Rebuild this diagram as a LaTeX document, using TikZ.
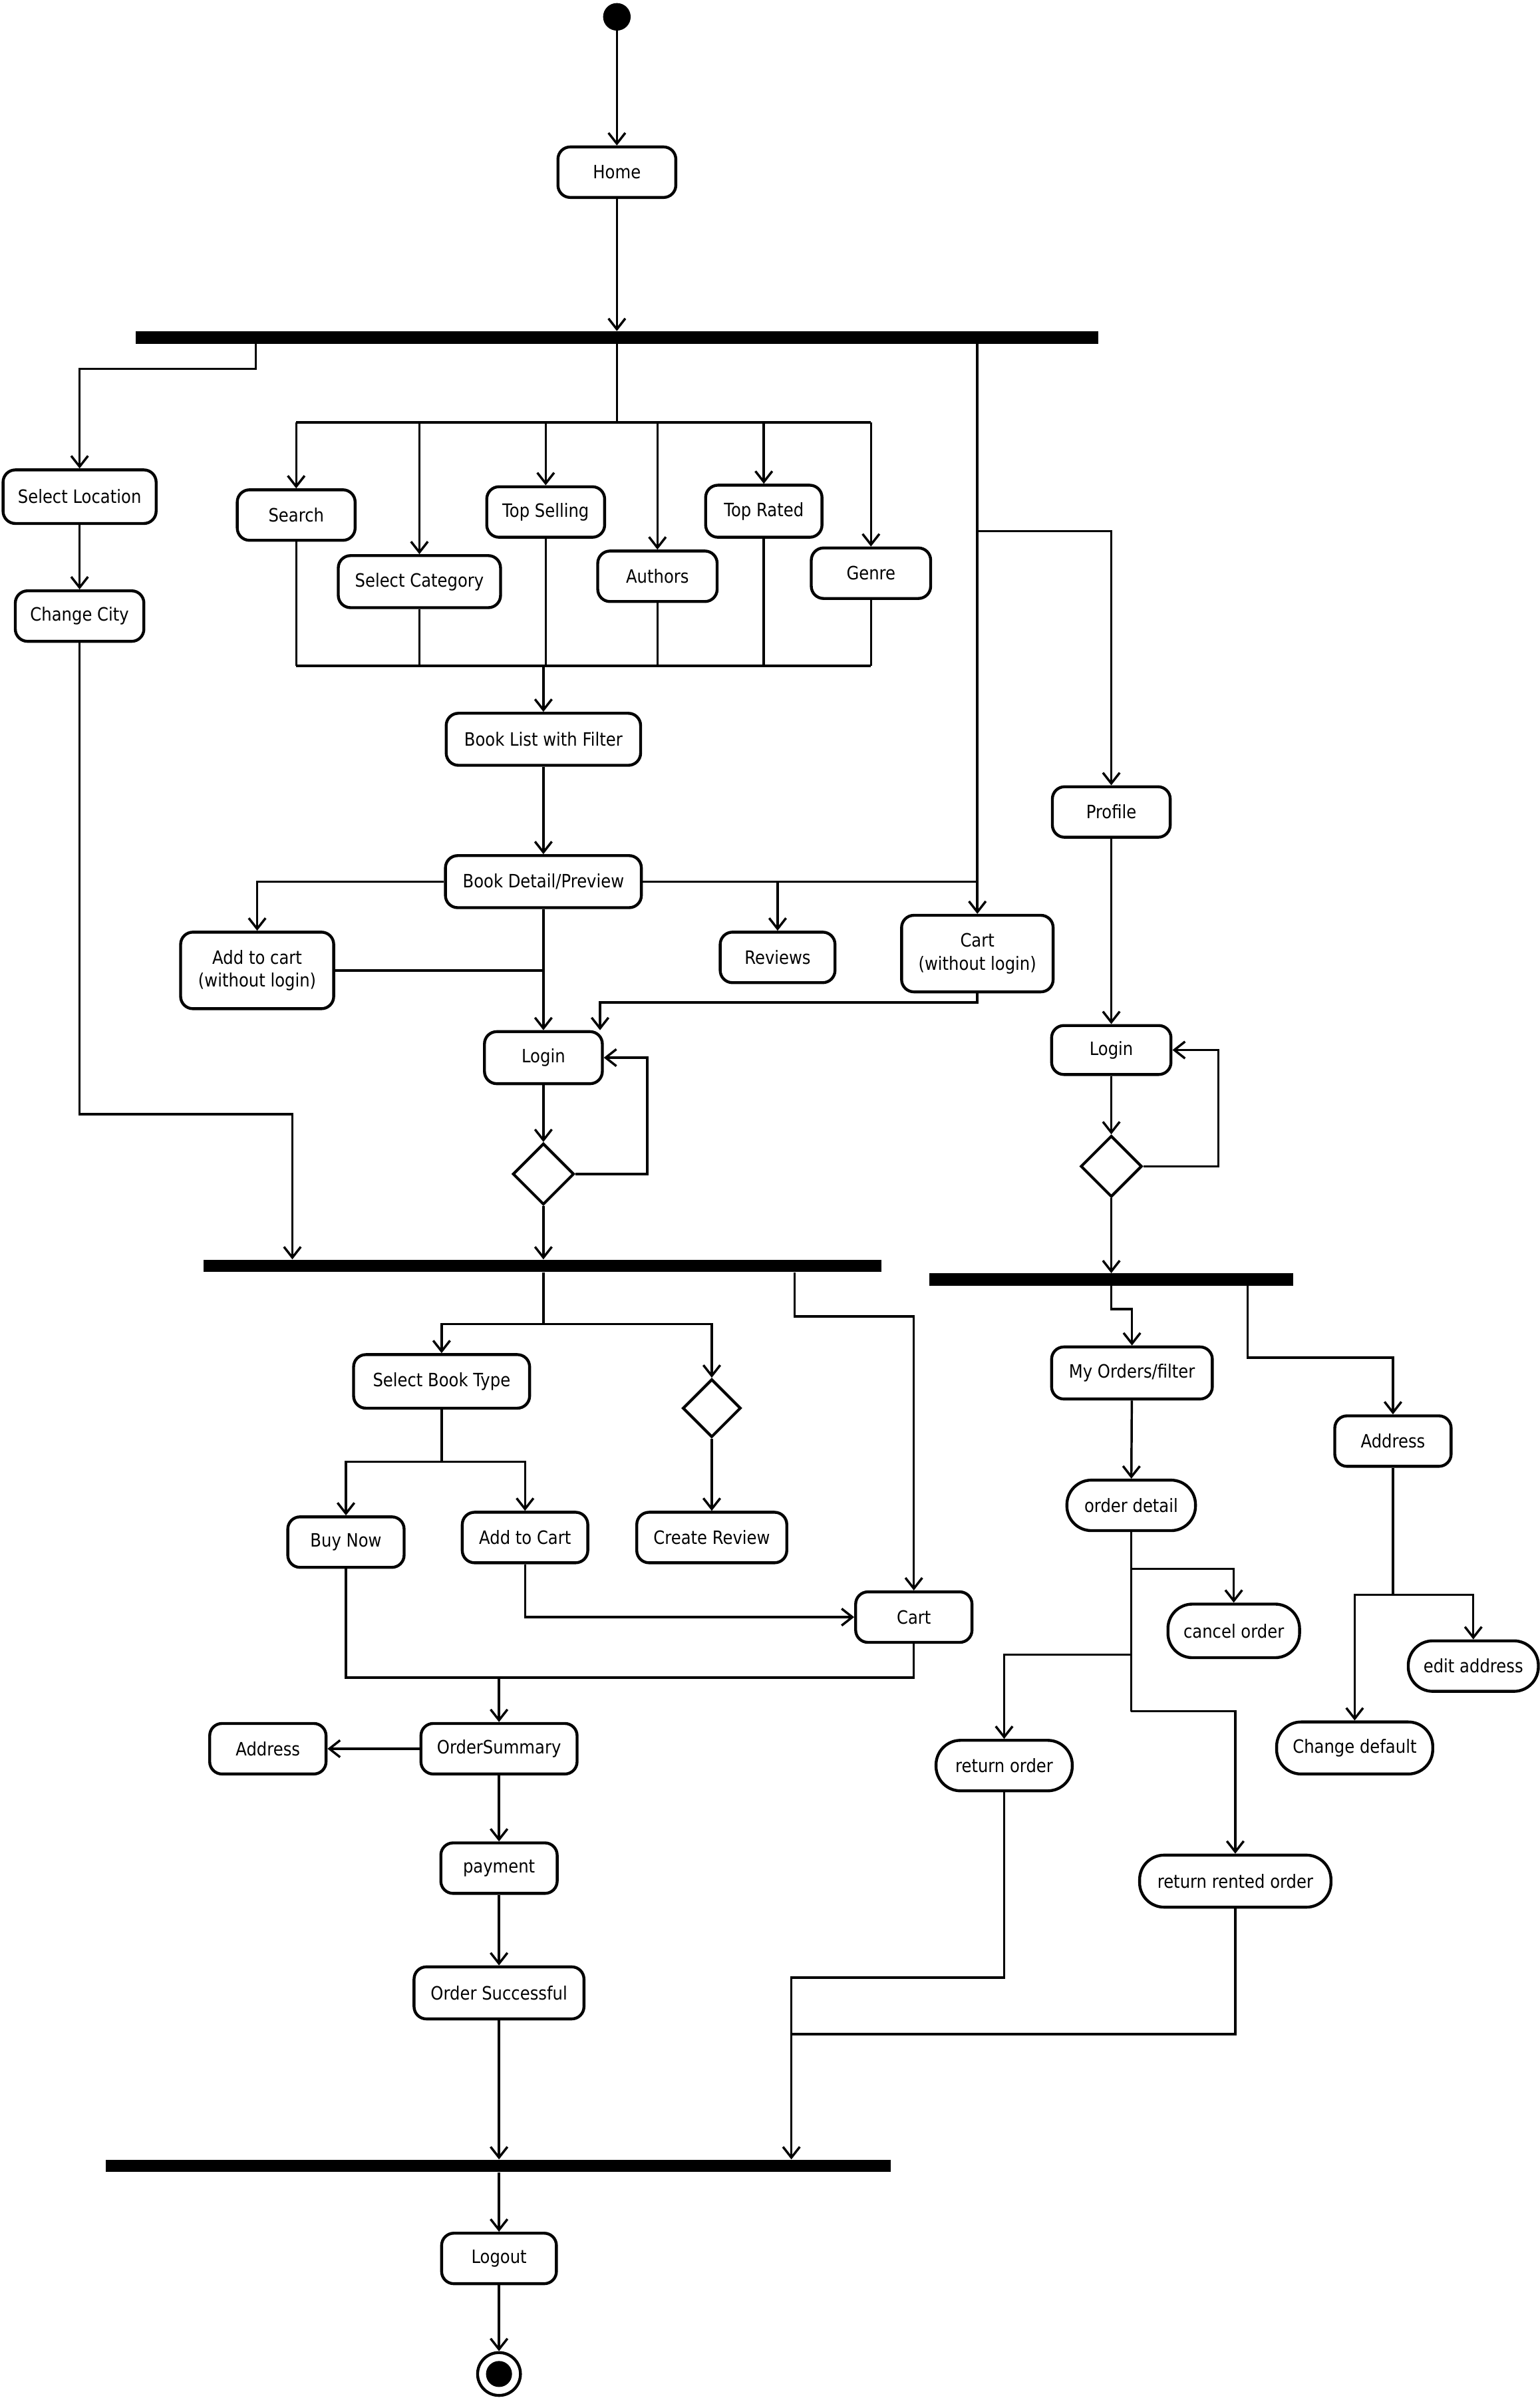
\documentclass[tikz,border=0pt]{standalone}
\usepackage{fontspec}
\setmainfont{DejaVu Sans}[FakeStretch=0.88]
\usetikzlibrary{arrows.meta,shapes.geometric}
\begin{document}
\begin{tikzpicture}[x=1pt,y=-1pt,
  act/.style={draw, line width=1.9pt, rounded corners=8pt, inner sep=0pt, align=center, font=\fontsize{12}{15}\selectfont},
  stad/.style={act, rounded corners=16pt},
  sz/.style 2 args={minimum width=#1pt, minimum height=#2pt},
  bar/.style={fill=black, inner sep=0pt, minimum height=8pt},
  dec/.style={diamond, draw, line width=1.8pt, inner sep=0pt, minimum width=40pt, minimum height=40pt},
  conn/.style={line width=1.5pt},
  arr/.style={conn, -{Straight Barb[length=7pt,width=11pt]}},
]
\path[use as bounding box, fill=white] (0,0) rectangle (1006,1568);

% ---------- nodes ----------
\node[circle, fill=black, minimum size=18pt, inner sep=0] (start) at (403,11) {};
\node[act, sz={77}{33}] (home) at (403,112.5) {Home};
\node[bar, minimum width=629pt] (b1) at (403,220.5) {};

\node[act, sz={100}{35}] (selloc) at (52,324.5) {Select Location};
\node[act, sz={84}{33}] (chcity) at (52,402.5) {Change City};

\node[act, sz={77}{33}] (search) at (193.5,336.5) {Search};
\node[act, sz={106}{34}] (selcat) at (274,380) {Select Category};
\node[act, sz={77}{33}] (topsell) at (356.5,334.5) {Top Selling};
\node[act, sz={78}{33}] (authors) at (429.5,376.5) {Authors};
\node[act, sz={76}{34}] (toprated) at (499,334) {Top Rated};
\node[act, sz={78}{33}] (genre) at (569,374.5) {Genre};

\node[act, sz={127}{34}] (booklist) at (355,483) {Book List with Filter};
\node[act, sz={128}{34}] (bookdet) at (355,576) {Book Detail/Preview};
\node[act, sz={100}{50}] (addcartwl) at (168,634) {Add to cart\\(without login)};
\node[act, sz={75}{33}] (reviews) at (508,625.5) {Reviews};
\node[act, sz={99}{50}] (cartwl) at (638.5,623) {Cart\\(without login)};
\node[act, sz={77}{33}] (profile) at (726,530.5) {Profile};

\node[act, sz={77}{34}] (login1) at (355,691) {Login};
\node[dec] (dia1) at (355,767) {};
\node[act, sz={78}{32}] (login2) at (726,686) {Login};
\node[dec] (dia2) at (726,762) {};

\node[bar, minimum width=443pt] (b2) at (354.5,827) {};
\node[bar, minimum width=238pt] (b4) at (726,836) {};

\node[act, sz={115}{35}] (selbook) at (288.5,902.5) {Select Book Type};
\node[dec, minimum width=38pt, minimum height=38pt] (dia3) at (465,920) {};
\node[act, sz={76}{33}] (buynow) at (226,1007.5) {Buy Now};
\node[act, sz={82}{33}] (addcart) at (343,1004.5) {Add to Cart};
\node[act, sz={98}{33}] (createrev) at (465,1004.5) {Create Review};
\node[act, sz={76}{33}] (cart) at (597,1056.5) {Cart};

\node[act, sz={102}{33}] (ordsum) at (326,1142.5) {OrderSummary};
\node[act, sz={76}{33}] (address1) at (175,1142.5) {Address};
\node[act, sz={76}{33}] (payment) at (326,1220.5) {payment};
\node[act, sz={111}{34}] (ordsucc) at (326,1302) {Order Successful};
\node[bar, minimum width=513pt] (b3) at (325.5,1415) {};
\node[act, sz={75}{33}] (logout) at (326,1475.5) {Logout};
\node[circle, draw, line width=1.9pt, minimum size=28pt, inner sep=0] (endo) at (326,1551) {};
\node[circle, fill=black, minimum size=17pt, inner sep=0] (endi) at (326,1551) {};

\node[act, sz={105}{34}] (myorders) at (739.5,897) {My Orders/filter};
\node[act, sz={76}{33}] (address2) at (910,941.5) {Address};
\node[stad, sz={84}{33}] (orddet) at (739,983.5) {order detail};
\node[stad, sz={86}{35}] (cancel) at (806,1065.5) {cancel order};
\node[stad, sz={89}{33}] (retorder) at (656,1153.5) {return order};
\node[stad, sz={125}{34}] (retrented) at (807,1229) {return rented order};
\node[stad, sz={85}{33}] (editaddr) at (962.5,1088.5) {edit address};
\node[stad, sz={102}{34}] (chdefault) at (885,1142) {Change default};

% ---------- helper coordinates ----------
\coordinate (g167) at (167,241);
\coordinate (kA) at (191,728);
\coordinate (fanL) at (193.5,276);
\coordinate (fanR) at (569,276);
\coordinate (mL) at (193.5,435);
\coordinate (mR) at (569,435);
\coordinate (kP) at (726,347);
\coordinate (kC) at (392,655);
\coordinate (kB2) at (355,865);
\coordinate (kB2b) at (519,860);
\coordinate (kS) at (288.5,955);
\coordinate (kM) at (326,1096);
\coordinate (kB4) at (815,887);
\coordinate (kO1) at (739,1025);
\coordinate (kO2) at (739,1081);
\coordinate (kO3) at (739,1118);
\coordinate (kR) at (517,1292);
\coordinate (kR2) at (517,1329);
\coordinate (kA2) at (910,1042);

% ---------- connectors ----------
\draw[arr] (start) -- (home);
\draw[arr] (home) -- (home |- b1.north);

\draw[arr] (b1.south -| g167) -- (g167) -| (selloc);
\draw[arr] (selloc) -- (chcity);
\draw[arr] (chcity) |- (kA) -- (kA |- b2.north);

\draw[conn] (b1.south) -- (b1.south |- fanL);
\draw[conn] (fanL) -- (fanR);
\foreach \n in {search,selcat,topsell,authors,toprated,genre}{
  \draw[arr] (\n |- fanL) -- (\n);
  \draw[conn] (\n) -- (\n |- mL);
}
\draw[conn] (mL) -- (mR);
\draw[arr] (booklist |- mL) -- (booklist);
\draw[arr] (booklist) -- (bookdet);

\draw[arr] (b1.south -| cartwl) -- (cartwl);
\draw[arr] (cartwl |- kP) -| (profile);
\draw[conn] (bookdet.east) -- (bookdet.east -| cartwl);
\draw[arr] (bookdet.east -| reviews) -- (reviews);
\draw[arr] (bookdet.west) -| (addcartwl);
\draw[arr] (bookdet) -- (login1);
\draw[conn] (addcartwl.east) -- (addcartwl.east -| login1);
\draw[arr] (cartwl) |- (kC) -- (kC |- login1.north);

\draw[arr] (login1) -- (dia1);
\draw[arr] (dia1.east) -- ++(47,0) |- (login1.east);
\draw[arr] (dia1) -- (dia1 |- b2.north);

\draw[arr] (profile) -- (login2);
\draw[arr] (login2) -- (dia2);
\draw[arr] (dia2.east) -- ++(49,0) |- (login2.east);
\draw[arr] (dia2) -- (dia2 |- b4.north);

\draw[conn] (b2.south -| kB2) -- (kB2);
\draw[arr] (kB2) -| (selbook);
\draw[arr] (kB2) -| (dia3);
\draw[arr] (b2.south -| kB2b) -- (kB2b) -| (cart);
\draw[arr] (dia3) -- (createrev);

\draw[conn] (selbook) -- (kS);
\draw[arr] (kS) -| (buynow);
\draw[arr] (kS) -| (addcart);
\draw[arr] (addcart) |- (cart);
\draw[conn] (buynow) |- (cart |- kM) -- (cart);
\draw[arr] (kM) -- (ordsum);

\draw[arr] (ordsum) -- (address1);
\draw[arr] (ordsum) -- (payment);
\draw[arr] (payment) -- (ordsucc);
\draw[arr] (ordsucc) -- (ordsucc |- b3.north);
\draw[arr] (logout |- b3.south) -- (logout);
\draw[arr] (logout) -- (endo);

\draw[arr] (b4.south -| dia2) -- ++(0,15) -| (myorders);
\draw[arr] (b4.south -| kB4) -- (kB4) -| (address2);
\draw[arr] (myorders) -- (orddet);
\draw[conn] (orddet) -- (kO3);
\draw[arr] (kO1) -| (cancel);
\draw[arr] (kO2) -| (retorder);
\draw[arr] (kO3) -| (retrented);
\draw[arr] (retorder) |- (kR) -- (kR |- b3.north);
\draw[conn] (retrented) |- (kR2);

\draw[conn] (address2) -- (kA2);
\draw[arr] (kA2) -| (chdefault);
\draw[arr] (kA2) -| (editaddr);
\end{tikzpicture}
\end{document}
